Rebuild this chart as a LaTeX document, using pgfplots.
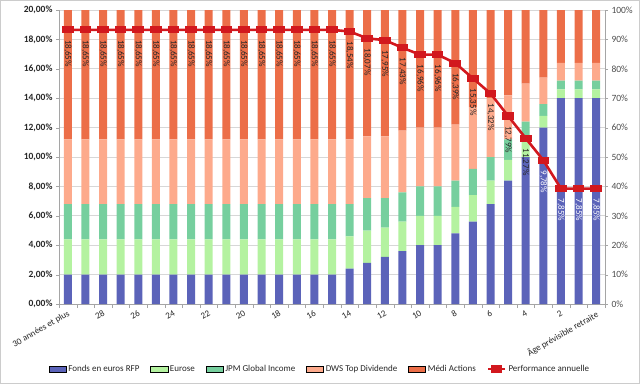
\documentclass[border=0pt]{standalone}
\usepackage{fontspec}
\setmainfont{Carlito}
\usepackage{pgfplots}
\pgfplotsset{compat=1.18}
\usepackage{pgfplotstable}

\definecolor{cF}{RGB}{91,99,185}
\definecolor{cE}{RGB}{180,242,160}
\definecolor{cJ}{RGB}{118,207,158}
\definecolor{cD}{RGB}{253,170,140}
\definecolor{cM}{RGB}{236,110,72}
\definecolor{cP}{RGB}{210,24,30}
\definecolor{grd}{RGB}{215,215,215}
\definecolor{axc}{RGB}{165,165,165}

\pgfplotstableread{
idx F E J D M P
0 10 12 12 22 44 18.65
1 10 12 12 22 44 18.65
2 10 12 12 22 44 18.65
3 10 12 12 22 44 18.65
4 10 12 12 22 44 18.65
5 10 12 12 22 44 18.65
6 10 12 12 22 44 18.65
7 10 12 12 22 44 18.65
8 10 12 12 22 44 18.65
9 10 12 12 22 44 18.65
10 10 12 12 22 44 18.65
11 10 12 12 22 44 18.65
12 10 12 12 22 44 18.65
13 10 12 12 22 44 18.65
14 10 12 12 22 44 18.65
15 10 12 12 22 44 18.65
16 12 11 11 22 44 18.54
17 14 11 11 21 43 18.07
18 16 10 10 21 43 17.95
19 18 10 10 21 41 17.43
20 20 10 10 20 40 16.96
21 20 10 10 20 40 16.96
22 24 9 9 19 39 16.39
23 28 9 9 21 33 15.35
24 34 8 8 20 30 14.32
25 42 7 7 15 29 12.79
26 50 7 5 13 25 11.27
27 60 4 4 9 23 9.78
28 70 3 3 6 18 7.85
29 70 3 3 6 18 7.85
30 70 3 3 6 18 7.85
}\data

\begin{document}
\begin{tikzpicture}
\useasboundingbox (0,0) rectangle (640pt,384pt);
\draw[gray!40] (0.5pt,0.5pt) rectangle (639.5pt,383.5pt);

\begin{axis}[
  at={(59pt,80pt)}, anchor=south west, scale only axis,
  width=546pt, height=294pt,
  xmin=-0.5, xmax=30.5, ymin=0, ymax=100,
  enlargelimits=false,
  axis y line*=right, axis x line*=bottom,
  axis line style={axc},
  ybar stacked, bar width=8pt,
  ytick={0,10,...,100},
  yticklabel={\pgfmathprintnumber{\tick}\%},
  /pgf/number format/assume math mode=true,
  y tick label style={font=\fontsize{9.5}{10}\selectfont, text=black!70},
  ymajorgrids, grid style={grd, line width=0.8pt},
  xtick={0,2,...,30},
  xticklabels={30 années et plus,28,26,24,22,20,18,16,14,12,10,8,6,4,2,Âge prévisible retraite},
  x tick label style={rotate=30, anchor=north east, font=\fontsize{9}{10}\selectfont, text=black!85, inner sep=2pt},
  major x tick style={draw=none},
  minor xtick={-0.5,0.5,...,30.5},
  minor tick length=4pt, major tick length=3pt,
  tick align=outside,
  tick style={axc},
]
\addplot[fill=cF, draw=none] table[x=idx,y=F]{\data};
\addplot[fill=cE, draw=none] table[x=idx,y=E]{\data};
\addplot[fill=cJ, draw=none] table[x=idx,y=J]{\data};
\addplot[fill=cD, draw=none] table[x=idx,y=D]{\data};
\addplot[fill=cM, draw=none] table[x=idx,y=M]{\data};
\end{axis}

\begin{axis}[
  at={(59pt,80pt)}, anchor=south west, scale only axis,
  width=546pt, height=294pt,
  xmin=-0.5, xmax=30.5, ymin=0, ymax=20,
  enlargelimits=false,
  axis y line*=left, axis x line=none,
  axis line style={axc},
  ytick={0,2,...,20},
  yticklabel={\pgfmathprintnumber[fixed,fixed zerofill,precision=2,use comma]{\tick}\%},
  /pgf/number format/assume math mode=true,
  y tick label style={font=\bfseries\fontsize{9.5}{10}\selectfont, text=black!85},
  major tick length=3pt, tick align=outside, tick style={axc},
  clip=false,
  legend columns=6,
  legend style={at={(0.478,-0.221)}, anchor=center, draw=none, fill=none,
    font=\fontsize{9}{10}\selectfont, text=black!85,
    /tikz/every even column/.append style={column sep=9pt},
    legend cell align=left},
]
\addlegendimage{area legend, fill=cF, draw=none}
\addlegendentry{Fonds en euros RFP}
\addlegendimage{area legend, fill=cE, draw=none}
\addlegendentry{Eurose}
\addlegendimage{area legend, fill=cJ, draw=none}
\addlegendentry{JPM Global Income}
\addlegendimage{area legend, fill=cD, draw=none}
\addlegendentry{DWS Top Dividende}
\addlegendimage{area legend, fill=cM, draw=none}
\addlegendentry{Médi Actions}
\addplot[cP, line width=2.6pt, mark=square*, mark size=4.5pt,
  mark options={yscale=0.5, solid}] table[x=idx,y=P]{\data};
\addlegendentry{Performance annuelle}
\addplot[draw=none, mark=none, forget plot,
  restrict x to domain=0:26,
  nodes near coords={\pgfmathprintnumber[fixed,fixed zerofill,precision=2,use comma]{\pgfplotspointmeta}\%},
  every node near coord/.append style={yshift=-10pt, rotate=-90, anchor=west, inner sep=0pt,
    font=\fontsize{9}{10}\selectfont, text=black!85}]
  table[x=idx,y=P]{\data};
\addplot[draw=none, mark=none, forget plot,
  restrict x to domain=27:30,
  nodes near coords={\pgfmathprintnumber[fixed,fixed zerofill,precision=2,use comma]{\pgfplotspointmeta}\%},
  every node near coord/.append style={yshift=-10pt, rotate=-90, anchor=west, inner sep=0pt,
    font=\fontsize{9}{10}\selectfont, text=white}]
  table[x=idx,y=P]{\data};
\end{axis}
\end{tikzpicture}
\end{document}
